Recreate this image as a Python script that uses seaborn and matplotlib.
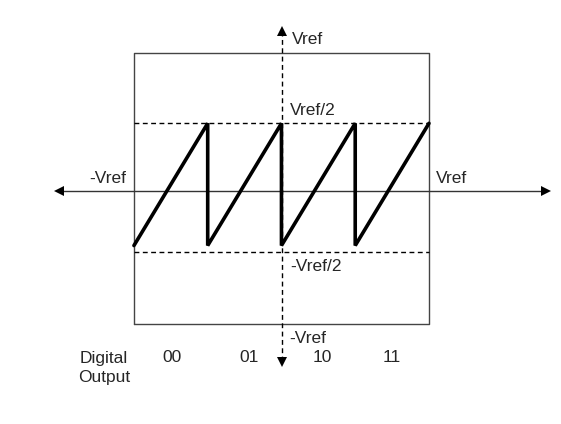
import matplotlib
matplotlib.use("Agg")
import matplotlib.pyplot as plt
import seaborn as sns
import pandas as pd

sns.set_theme(style="white")
plt.rcParams['font.family'] = ['Liberation Sans', 'DejaVu Sans']

# Data (in units of Vref)
saw_x = [-1.0, -0.5, -0.5, 0.0, 0.0, 0.5, 0.5, 1.0]
saw_y = [-0.42, 0.48, -0.42, 0.48, -0.42, 0.48, -0.42, 0.48]
half_level = 0.48
codes = ["00", "01", "10", "11"]
code_x = [-0.742, -0.220, 0.275, 0.749]

fig = plt.figure(figsize=(5.61, 4.24), dpi=100)
ax = fig.add_axes([0, 0, 1, 1])
ax.set_xlim(-1.908, 1.895)
ax.set_ylim(-1.734, 1.388)
ax.axis("off")

# Box
ax.plot([-1, 1, 1, -1, -1], [-1, -1, 1, 1, -1], color="#444444", lw=1.0)

# Dashed reference levels
for lv in (half_level, -0.47):
    ax.plot([-1, 1], [lv, lv], color="black", lw=1.0, ls=(0, (3.5, 2.5)))

# Horizontal axis with arrows
ax_y = -0.018
ax.plot([-1.50, 1.78], [ax_y, ax_y], color="#333333", lw=1.0)
ax.plot([-1.51], [ax_y], marker="<", color="black", ms=7, mew=0)
ax.plot([1.79], [ax_y], marker=">", color="black", ms=7, mew=0)

# Vertical dashed axis with arrows
vx = 0.005
ax.plot([vx, vx], [-1.27, 1.15], color="black", lw=1.0, ls=(0, (3.5, 2.5)))
ax.plot([vx], [1.16], marker="^", color="black", ms=7, mew=0)
ax.plot([vx], [-1.28], marker="v", color="black", ms=7, mew=0)

# Sawtooth via seaborn
df = pd.DataFrame({"x": saw_x, "y": saw_y})
sns.lineplot(data=df, x="x", y="y", sort=False, estimator=None, ax=ax,
             color="black", lw=2.6, solid_joinstyle="miter")

fs = 12.5
ax.text(0.071, 1.094, "Vref", fontsize=fs, va="center", ha="left")
ax.text(0.058, 0.578, "Vref/2", fontsize=fs, va="center", ha="left")
ax.text(0.058, -0.571, "-Vref/2", fontsize=fs, va="center", ha="left")
ax.text(-1.054, 0.077, "-Vref", fontsize=fs, va="center", ha="right")
ax.text(1.047, 0.077, "Vref", fontsize=fs, va="center", ha="left")
ax.text(0.051, -1.108, "-Vref", fontsize=fs, va="center", ha="left")
ax.text(-1.203, -1.322, "Digital\nOutput", fontsize=fs, va="center", ha="center",
        linespacing=1.3)
for c, x in zip(codes, code_x):
    ax.text(x, -1.248, c, fontsize=fs, va="center", ha="center")

fig.savefig("out.png", dpi=100)
